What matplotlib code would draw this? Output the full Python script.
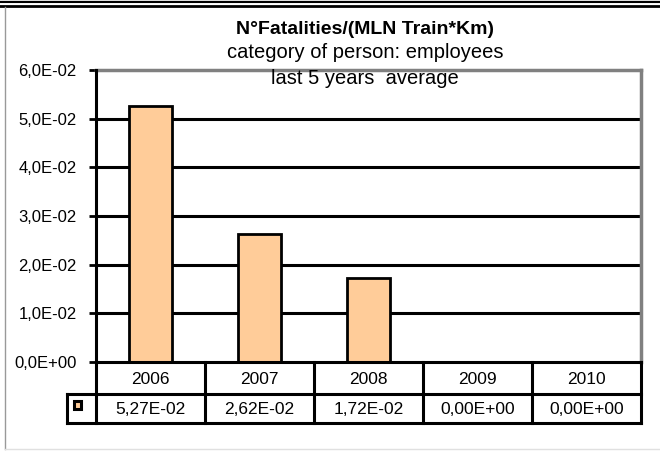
import matplotlib
matplotlib.use("Agg")
import matplotlib.pyplot as plt
from matplotlib.lines import Line2D
from matplotlib.patches import Rectangle

years = ["2006", "2007", "2008", "2009", "2010"]
values = [5.27e-02, 2.62e-02, 1.72e-02, 0.0, 0.0]
ytick_vals = [0.0, 0.01, 0.02, 0.03, 0.04, 0.05, 0.06]
ytick_labels = ["0,0E+00", "1,0E-02", "2,0E-02", "3,0E-02", "4,0E-02", "5,0E-02", "6,0E-02"]
value_labels = ["5,27E-02", "2,62E-02", "1,72E-02", "0,00E+00", "0,00E+00"]
title = "N°Fatalities/(MLN Train*Km)"
subtitle_lines = ["category of person: employees", "last 5 years  average"]

plt.rcParams["font.family"] = ["Liberation Sans", "DejaVu Sans"]
W, H = 660, 451
fig = plt.figure(figsize=(6.6, 4.51), dpi=100)

L, R, T, B = 96, 641, 70, 362
ax = fig.add_axes([L / W, 1 - B / H, (R - L) / W, (B - T) / H])
ax.set_xlim(-0.5, len(years) - 0.5)
ax.set_ylim(0, 0.06)

for y in ytick_vals[1:-1]:
    ax.axhline(y, color="black", lw=2.2, zorder=1)
ax.bar(range(len(years)), values, width=0.4, color="#FFCC99",
       edgecolor="black", linewidth=2, zorder=2)

ax.set_yticks(ytick_vals)
ax.set_yticklabels(ytick_labels, fontsize=12)
ax.set_xticks([])
ax.tick_params(axis="y", direction="out", length=5, width=2, pad=9)
for s in ["top", "right"]:
    ax.spines[s].set_color("#808080")
    ax.spines[s].set_linewidth(2.5)
for s in ["left", "bottom"]:
    ax.spines[s].set_color("black")
    ax.spines[s].set_linewidth(2.2)
    ax.spines[s].set_zorder(3)


def fx(px):
    return px / W


def fy(py):
    return 1 - py / H


# data table
col_edges = [L + (R - L) * i / len(years) for i in range(len(years) + 1)]
r0, r1, r2 = B, 394, 423
leg_left = 67
lines = []
for x in col_edges:
    lines.append(((x, x), (r0, r2)))
lines.append(((leg_left, leg_left), (r1, r2)))
lines.append(((leg_left, R), (r1, r1)))
lines.append(((leg_left, R), (r2, r2)))
for xs, ys in lines:
    fig.add_artist(Line2D([fx(xs[0]), fx(xs[1])], [fy(ys[0]), fy(ys[1])],
                          color="black", lw=2.2, solid_capstyle="projecting"))
for i, yr in enumerate(years):
    cx = (col_edges[i] + col_edges[i + 1]) / 2
    fig.text(fx(cx), fy((r0 + r1) / 2 + 1), yr, ha="center", va="center", fontsize=12.5)
    fig.text(fx(cx), fy((r1 + r2) / 2 + 1), value_labels[i], ha="center", va="center", fontsize=12.5)
fig.add_artist(Rectangle((fx(74), fy(409)), 7 / W, 8 / H, facecolor="#FFCC99",
                         edgecolor="black", lw=2.2))

# titles
fig.text(fx(365), fy(30), title, ha="center", va="center", fontsize=14, fontweight="bold")
fig.text(fx(365), fy(53), subtitle_lines[0], ha="center", va="center", fontsize=14.5)
fig.text(fx(365), fy(78), subtitle_lines[1], ha="center", va="center", fontsize=14.5)

# frame decorations
fig.add_artist(Line2D([0, 1], [fy(0.5), fy(0.5)], color="#888888", lw=1))
fig.add_artist(Line2D([0, 1], [fy(2), fy(2)], color="black", lw=1.5))
fig.add_artist(Line2D([0, 1], [fy(5.5), fy(5.5)], color="black", lw=2))
fig.add_artist(Line2D([fx(5), fx(5)], [fy(7), fy(449)], color="#999999", lw=1))
fig.add_artist(Line2D([fx(5), 1], [fy(449), fy(449)], color="#e0e0e0", lw=1))

fig.savefig("out.png", dpi=100)
